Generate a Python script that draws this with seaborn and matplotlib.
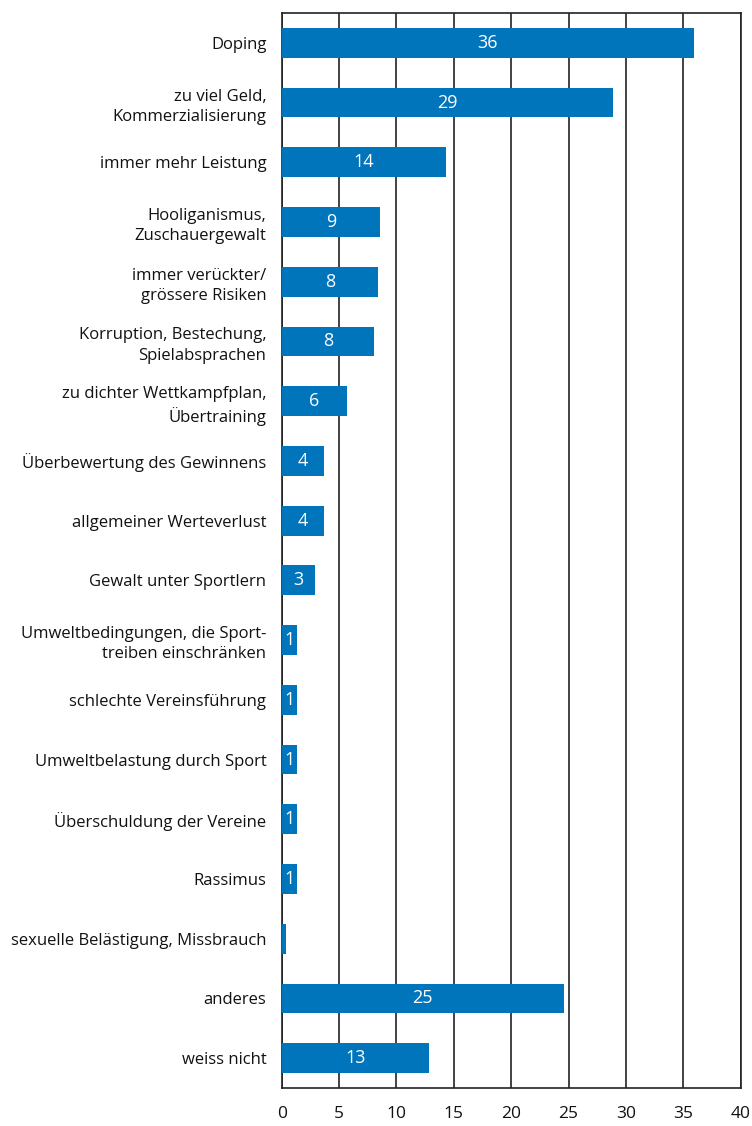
import matplotlib
matplotlib.use("Agg")
import matplotlib.pyplot as plt
import seaborn as sns
import pandas as pd
import numpy as np

categories = [
    "Doping",
    "zu viel Geld,\nKommerzialisierung",
    "immer mehr Leistung",
    "Hooliganismus,\nZuschauergewalt",
    "immer verückter/\ngrössere Risiken",
    "Korruption, Bestechung,\nSpielabsprachen",
    "zu dichter Wettkampfplan,\nÜbertraining",
    "Überbewertung des Gewinnens",
    "allgemeiner Werteverlust",
    "Gewalt unter Sportlern",
    "Umweltbedingungen, die Sport-\ntreiben einschränken",
    "schlechte Vereinsführung",
    "Umweltbelastung durch Sport",
    "Überschuldung der Vereine",
    "Rassimus",
    "sexuelle Belästigung, Missbrauch",
    "anderes",
    "weiss nicht",
]
values = [35.9, 28.9, 14.3, 8.6, 8.4, 8.05, 5.7, 3.7, 3.7, 2.9,
          1.3, 1.3, 1.3, 1.3, 1.3, 0.4, 24.6, 12.85]
value_labels = ["36", "29", "14", "9", "8", "8", "6", "4", "4", "3",
                "1", "1", "1", "1", "1", "", "25", "13"]
x_ticks = [0, 5, 10, 15, 20, 25, 30, 35, 40]

sns.set_style("white")
plt.rcParams["font.family"] = ["Open Sans", "DejaVu Sans"]
plt.rcParams["font.size"] = 12

df = pd.DataFrame({"cat": categories, "val": values})

fig = plt.figure(figsize=(7.52, 11.26), dpi=100)
ax = fig.add_axes([0.3746, 0.0337, 0.6104, 0.9548])

sns.barplot(data=df, y="cat", x="val", orient="h", color="#0075BC",
            saturation=1, width=0.5, linewidth=0, ax=ax, zorder=3)

ax.set_xlim(0, 40)
ax.set_ylim(len(categories) - 0.5, -0.5)
ax.set_xticks(x_ticks)
ax.set_xticklabels([str(t) for t in x_ticks])
ax.set_xlabel("")
ax.set_ylabel("")

ax.grid(axis="x", color="#222222", linewidth=1.2, zorder=0)
ax.set_axisbelow(True)
for s in ax.spines.values():
    s.set_color("#222222")
    s.set_linewidth(1.2)
    s.set_visible(True)

ax.tick_params(axis="y", which="major", length=0, pad=11, labelsize=12,
               colors="#111111")
for lbl in ax.get_yticklabels():
    lbl.set_linespacing(1.35)
ax.set_yticks(np.arange(-0.5, len(categories), 1.0), minor=True)
ax.tick_params(axis="y", which="minor", length=5, width=1.2, color="#222222")
ax.tick_params(axis="x", which="major", length=5, width=1.2, color="#222222",
               pad=8, labelsize=12.5, labelcolor="#111111")

for i, (v, t) in enumerate(zip(values, value_labels)):
    if t:
        ax.text(v / 2, i, t, ha="center", va="center", color="white",
                fontsize=13, zorder=5)

fig.savefig("out.png", dpi=100)
